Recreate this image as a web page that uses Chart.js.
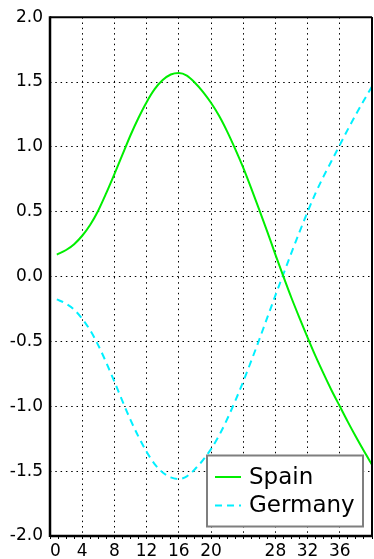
<!DOCTYPE html>
<html>
<head>
<meta charset="utf-8">
<script src="https://cdn.jsdelivr.net/npm/chart.js@4"></script>
<style>
  html, body { margin: 0; padding: 0; background: #ffffff; }
  #wrap { width: 374px; height: 559px; }
</style>
</head>
<body>
<div id="wrap"><canvas id="c" width="374" height="559"></canvas></div>
<script>
// Sample positions along the x axis
const xValues = [0.85, 2, 3, 4, 5, 6, 7, 8, 9, 10, 11, 12, 13, 14, 15, 16, 17, 18, 19, 20,
                 21, 22, 23, 24, 25, 26, 27, 28, 29, 30, 31, 32, 33, 34, 35, 36, 37, 38, 39, 40];

// Series values
const spain = [0.17, 0.205, 0.25, 0.315, 0.40, 0.51, 0.645, 0.79, 0.94, 1.09, 1.225, 1.345, 1.445, 1.515, 1.558, 1.57, 1.55, 1.495, 1.425, 1.34,
               1.24, 1.12, 0.985, 0.84, 0.68, 0.515, 0.345, 0.17, 0.0, -0.165, -0.32, -0.47, -0.615, -0.75, -0.88, -1.00, -1.12, -1.235, -1.345, -1.45];
const germany = [-0.175, -0.21, -0.255, -0.325, -0.415, -0.53, -0.665, -0.81, -0.96, -1.105, -1.235, -1.35, -1.445, -1.51, -1.548, -1.56, -1.54, -1.485, -1.415, -1.33,
                 -1.225, -1.10, -0.96, -0.81, -0.65, -0.485, -0.315, -0.145, 0.02, 0.185, 0.345, 0.50, 0.645, 0.775, 0.895, 1.015, 1.135, 1.25, 1.36, 1.465];

// Labelled x ticks
const xTickLabels = [0, 4, 8, 12, 16, 20, 28, 32, 36];
const xMajorStep = 4;

const seriesNames = ['Spain', 'Germany'];

function pts(vals) {
  return xValues.map((x, i) => ({ x: x, y: vals[i] }));
}

// Frame around the plotting area
const framePlugin = {
  id: 'frame',
  afterDatasetsDraw(chart) {
    const a = chart.chartArea, ctx = chart.ctx;
    ctx.save();
    ctx.strokeStyle = '#000000';
    ctx.lineWidth = 2;
    ctx.beginPath();
    ctx.moveTo(a.left, a.top); ctx.lineTo(a.right, a.top);
    ctx.moveTo(a.right, a.top); ctx.lineTo(a.right, a.bottom);
    ctx.stroke();
    ctx.lineWidth = 2.5;
    ctx.beginPath();
    ctx.moveTo(a.left, a.top - 1); ctx.lineTo(a.left, a.bottom + 1);
    ctx.moveTo(a.left, a.bottom); ctx.lineTo(a.right, a.bottom);
    ctx.stroke();
    ctx.restore();
  }
};

// Boxed legend in the lower right corner of the plot
const boxLegend = {
  id: 'boxLegend',
  afterDraw(chart) {
    const a = chart.chartArea, ctx = chart.ctx;
    const w = 156, h = 71;
    const x0 = a.right - 9 - w, y0 = a.bottom - 9.5 - h;
    ctx.save();
    ctx.fillStyle = '#ffffff';
    ctx.fillRect(x0, y0, w, h);
    ctx.strokeStyle = '#7f7f7f';
    ctx.lineWidth = 2;
    ctx.strokeRect(x0, y0, w, h);
    ctx.font = '23px "DejaVu Sans"';
    ctx.textBaseline = 'middle';
    ctx.fillStyle = '#000000';
    chart.data.datasets.forEach((ds, i) => {
      const cy = y0 + 21.5 + i * 28.5;
      ctx.strokeStyle = ds.borderColor;
      ctx.lineWidth = ds.borderWidth;
      ctx.setLineDash(ds.borderDash || []);
      ctx.beginPath();
      ctx.moveTo(x0 + 8, cy);
      ctx.lineTo(x0 + 34, cy);
      ctx.stroke();
      ctx.setLineDash([]);
      ctx.fillText(ds.label, x0 + 42, cy + 1);
    });
    ctx.restore();
  }
};

const gridDots = [1.5, 3.8];

new Chart(document.getElementById('c'), {
  type: 'line',
  data: {
    datasets: [
      {
        label: seriesNames[0],
        data: pts(spain),
        borderColor: '#00ee00',
        borderWidth: 2,
        pointRadius: 0,
        cubicInterpolationMode: 'monotone',
        fill: false
      },
      {
        label: seriesNames[1],
        data: pts(germany),
        borderColor: '#00f0ff',
        borderWidth: 2,
        borderDash: [7, 5],
        pointRadius: 0,
        cubicInterpolationMode: 'monotone',
        fill: false
      }
    ]
  },
  options: {
    responsive: false,
    animation: false,
    devicePixelRatio: 1,
    layout: { padding: { left: 0, right: 1, top: 15, bottom: 0 } },
    plugins: {
      legend: { display: false },
      tooltip: { enabled: false }
    },
    scales: {
      x: {
        type: 'linear',
        min: 0,
        max: 40,
        afterFit(s) { s.height = 23; },
        ticks: {
          stepSize: 1,
          autoSkip: false,
          maxRotation: 0,
          align: 'inner',
          padding: 2,
          color: '#000000',
          font: { family: '"DejaVu Sans"', size: 17 },
          callback(v) { return xTickLabels.includes(v) ? String(v) : ''; }
        },
        grid: {
          color(c) { return (c.tick && c.tick.value % xMajorStep === 0) ? '#000000' : 'rgba(0,0,0,0)'; },
          tickColor: '#000000',
          tickLength: 3,
          lineWidth: 1
        },
        border: { display: false, dash: gridDots }
      },
      y: {
        min: -2,
        max: 2,
        afterFit(s) { s.width = 50; },
        ticks: {
          stepSize: 0.5,
          padding: 7,
          color: '#000000',
          font: { family: '"DejaVu Sans"', size: 17 },
          callback(v) { return v.toFixed(1); }
        },
        grid: {
          color: '#000000',
          drawTicks: false,
          lineWidth: 1
        },
        border: { display: false, dash: gridDots }
      }
    }
  },
  plugins: [framePlugin, boxLegend]
});
</script>
</body>
</html>
